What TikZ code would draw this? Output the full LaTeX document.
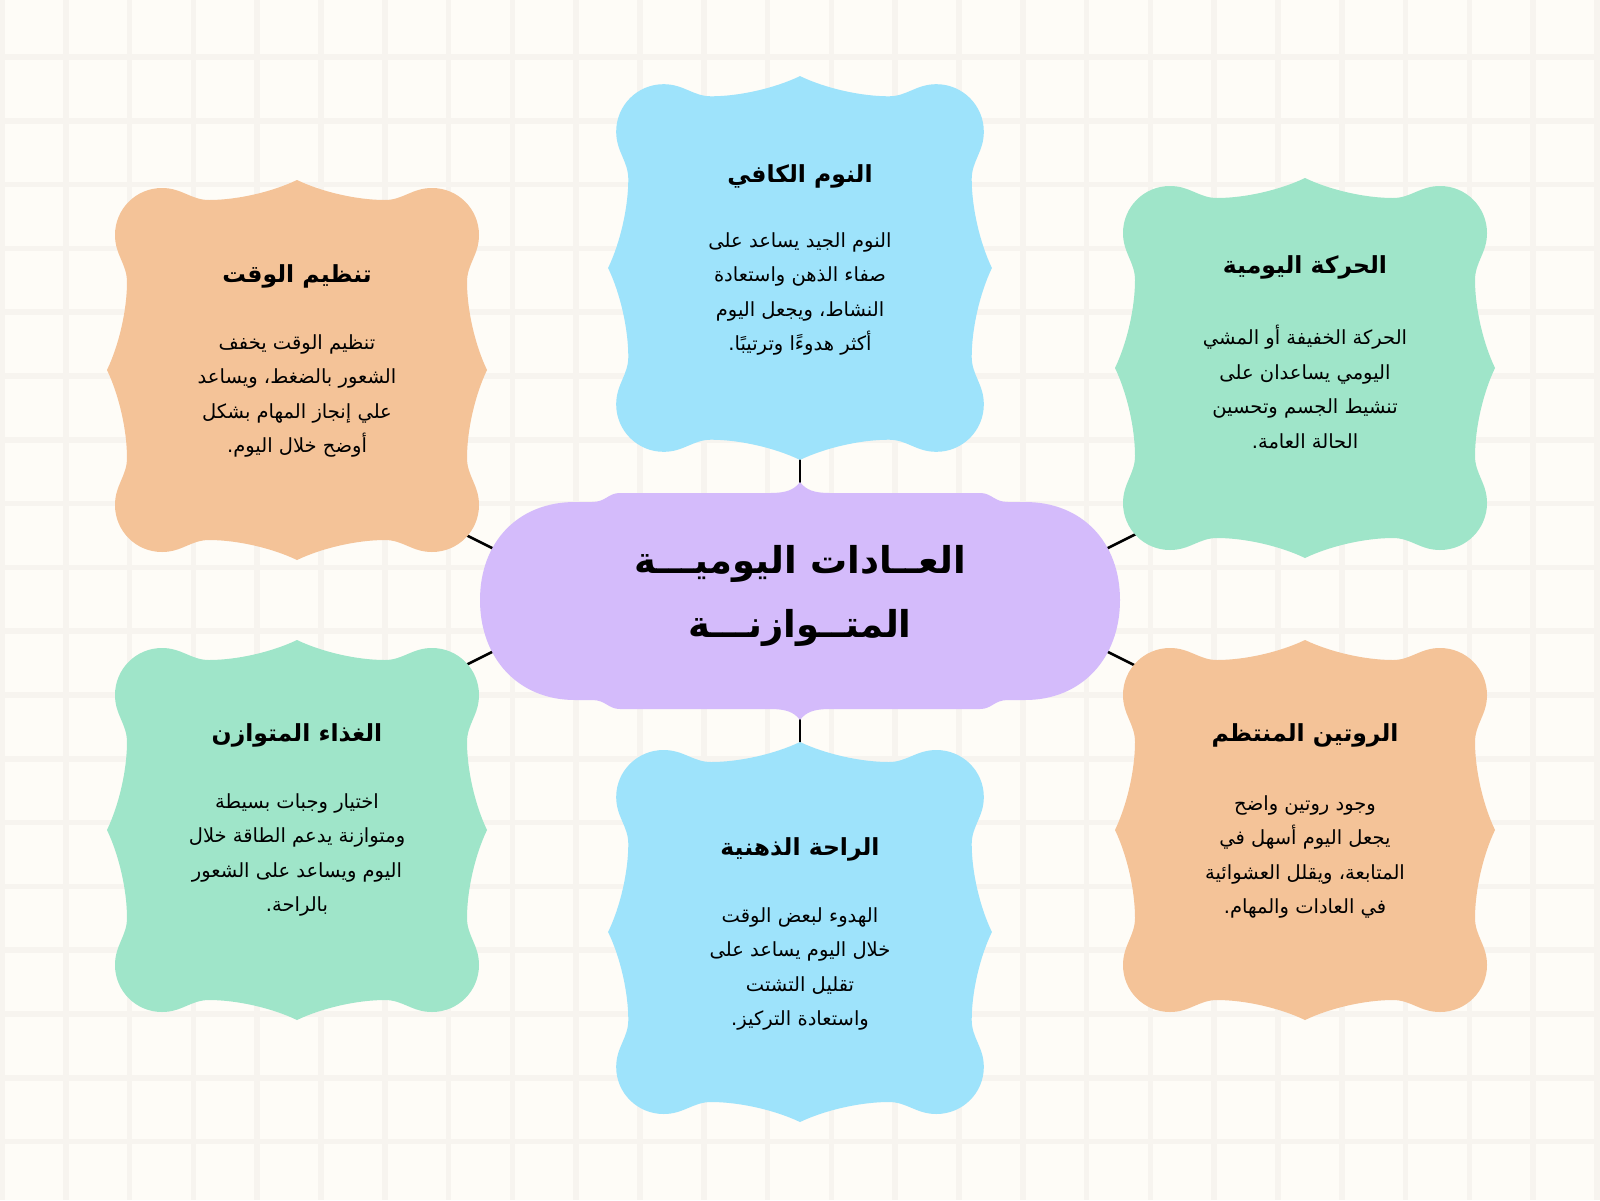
\documentclass[tikz,border=0pt]{standalone}
\usepackage{fontspec}
\TeXXeTstate=1
\newfontfamily\arabicfont[Script=Arabic]{DejaVu Sans}
\newcommand\AR[1]{\beginR #1\endR}
\definecolor{bgc}{HTML}{FEFCF7}
\definecolor{gridc}{HTML}{F7F4EF}
\definecolor{bluec}{HTML}{9EE3FB}
\definecolor{orangec}{HTML}{F4C398}
\definecolor{greenc}{HTML}{9FE5C9}
\definecolor{purplec}{HTML}{D4BBFB}
\newcommand\bracketpath{(0,-190)
 .. controls (-25,-178) and (-60,-170) .. (-88,-170)
 .. controls (-106,-170) and (-115,-182) .. (-135,-182)
 .. controls (-161,-182) and (-182,-161) .. (-182,-135)
 .. controls (-182,-115) and (-170,-106) .. (-170,-88)
 .. controls (-170,-60) and (-178,-25) .. (-190,0)
 .. controls (-178,25) and (-170,60) .. (-170,88)
 .. controls (-170,106) and (-182,115) .. (-182,135)
 .. controls (-182,161) and (-161,182) .. (-135,182)
 .. controls (-115,182) and (-106,170) .. (-88,170)
 .. controls (-60,170) and (-25,178) .. (0,190)
 .. controls (25,178) and (60,170) .. (88,170)
 .. controls (106,170) and (115,182) .. (135,182)
 .. controls (161,182) and (182,161) .. (182,135)
 .. controls (182,115) and (170,106) .. (170,88)
 .. controls (170,60) and (178,25) .. (190,0)
 .. controls (178,-25) and (170,-60) .. (170,-88)
 .. controls (170,-106) and (182,-115) .. (182,-135)
 .. controls (182,-161) and (161,-182) .. (135,-182)
 .. controls (115,-182) and (106,-170) .. (88,-170)
 .. controls (60,-170) and (25,-178) .. (0,-190) -- cycle}
\newcommand\centerpath{(0,-118)
 .. controls (-6,-110) and (-14,-107) .. (-30,-107)
 -- (-180,-107)
 .. controls (-192,-107) and (-194,-98) .. (-208,-98)
 -- (-225,-98)
 .. controls (-282,-98) and (-320,-58) .. (-320,0)
 .. controls (-320,58) and (-282,100) .. (-225,100)
 -- (-208,100)
 .. controls (-194,100) and (-192,109) .. (-180,109)
 -- (-30,109)
 .. controls (-14,109) and (-6,112) .. (0,120)
 .. controls (6,112) and (14,109) .. (30,109)
 -- (180,109)
 .. controls (192,109) and (194,100) .. (208,100)
 -- (225,100)
 .. controls (282,100) and (320,58) .. (320,0)
 .. controls (320,-58) and (282,-98) .. (225,-98)
 -- (208,-98)
 .. controls (194,-98) and (192,-107) .. (180,-107)
 -- (30,-107)
 .. controls (14,-107) and (6,-110) .. (0,-118) -- cycle}
\begin{document}
\begin{tikzpicture}[x=1pt,y=-1pt,
  gridline/.style={draw=gridc,line width=5.5pt},
  conn/.style={draw=black,line width=2.6pt},
  boxtitle/.style={font=\arabicfont\bfseries\fontsize{23.5}{28}\selectfont,inner sep=0pt},
  boxbody/.style={font=\arabicfont\fontsize{19.5}{34.5}\selectfont,align=center,inner sep=0pt},
  maintitle/.style={font=\arabicfont\bfseries\fontsize{37}{64}\selectfont,align=center,inner sep=0pt}]
\useasboundingbox (0,0) rectangle (1600,1200);
\fill[bgc] (0,0) rectangle (1600,1200);
\foreach \i in {0,...,25} \path[gridline] ({2+63.8*\i},0) -- ({2+63.8*\i},1200);
\foreach \j in {-1,...,18} \path[gridline] (0,{57+63.8*\j}) -- (1600,{57+63.8*\j});
% connector end points (hidden under shapes)
\coordinate (cT) at (800,520);
\coordinate (cB) at (800,690);
\coordinate (cTL) at (520,562);
\coordinate (cBL) at (520,638);
\coordinate (cTR) at (1080,562);
\coordinate (cBR) at (1080,638);
\coordinate (pT) at (800,430);
\coordinate (pB) at (800,770);
\coordinate (pTL) at (440,522);
\coordinate (pBL) at (440,678);
\coordinate (pTR) at (1160,522);
\coordinate (pBR) at (1160,678);
\path[conn] (cT) -- (pT);
\path[conn] (cB) -- (pB);
\path[conn] (cTL) -- (pTL);
\path[conn] (cBL) -- (pBL);
\path[conn] (cTR) -- (pTR);
\path[conn] (cBR) -- (pBR);
% shapes
\fill[bluec,shift={(800,268)},xscale=1.01,yscale=1.01] \bracketpath;
\fill[orangec,shift={(297,370)}] \bracketpath;
\fill[greenc,shift={(1305,368)}] \bracketpath;
\fill[greenc,shift={(297,830)}] \bracketpath;
\fill[orangec,shift={(1305,830)}] \bracketpath;
\fill[bluec,shift={(800,932)},xscale=1.01] \bracketpath;
\fill[purplec,shift={(800,600)}] \centerpath;
% texts
\node[maintitle] (title) at (800,596) {\AR{العــادات اليوميـــة}\\\AR{المتــوازنـــة}};
\node[boxtitle] (t1) at (800,176) {\AR{النوم الكافي}};
\node[boxbody] (b1) at (800,294) {\AR{النوم الجيد يساعد على}\\\AR{صفاء الذهن واستعادة}\\\AR{النشاط، ويجعل اليوم}\\\AR{أكثر هدوءًا وترتيبًا.}};
\node[boxtitle] (t2) at (297,276) {\AR{تنظيم الوقت}};
\node[boxbody] (b2) at (297,396) {\AR{تنظيم الوقت يخفف}\\\AR{الشعور بالضغط، ويساعد}\\\AR{علي إنجاز المهام بشكل}\\\AR{أوضح خلال اليوم.}};
\node[boxtitle] (t3) at (1305,267) {\AR{الحركة اليومية}};
\node[boxbody] (b3) at (1305,387) {\AR{الحركة الخفيفة أو المشي}\\\AR{اليومي يساعدان على}\\\AR{تنشيط الجسم وتحسين}\\\AR{الحالة العامة.}};
\node[boxtitle] (t4) at (297,735) {\AR{الغذاء المتوازن}};
\node[boxbody] (b4) at (297,855) {\AR{اختيار وجبات بسيطة}\\\AR{ومتوازنة يدعم الطاقة خلال}\\\AR{اليوم ويساعد على الشعور}\\\AR{بالراحة.}};
\node[boxtitle] (t5) at (1305,735) {\AR{الروتين المنتظم}};
\node[boxbody] (b5) at (1305,857) {\AR{وجود روتين واضح}\\\AR{يجعل اليوم أسهل في}\\\AR{المتابعة، ويقلل العشوائية}\\\AR{في العادات والمهام.}};
\node[boxtitle] (t6) at (800,849) {\AR{الراحة الذهنية}};
\node[boxbody] (b6) at (800,969) {\AR{الهدوء لبعض الوقت}\\\AR{خلال اليوم يساعد على}\\\AR{تقليل التشتت}\\\AR{واستعادة التركيز.}};
\end{tikzpicture}
\end{document}
